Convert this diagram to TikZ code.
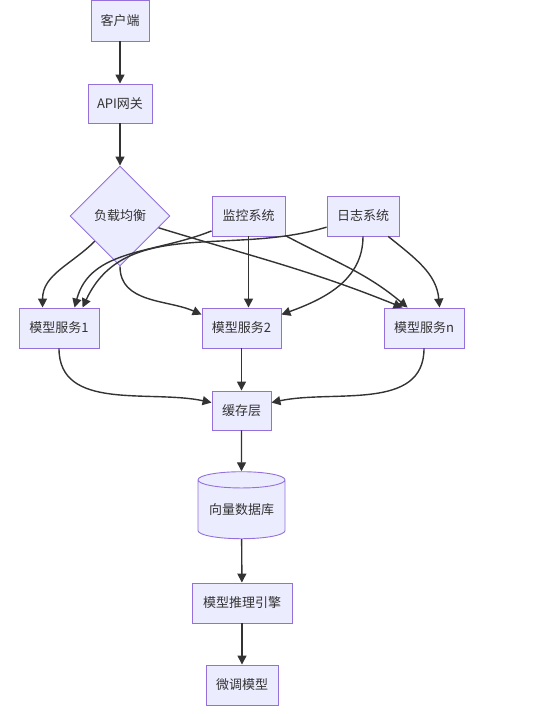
\documentclass[tikz,border=0pt]{standalone}
\usepackage{fontspec}
\setmainfont{Noto Sans CJK SC}
\usetikzlibrary{shapes.geometric,arrows.meta}
\definecolor{boxfill}{HTML}{ECECFF}
\definecolor{boxline}{HTML}{9370DB}
\definecolor{linkgray}{HTML}{333333}

\begin{document}
\begin{tikzpicture}[x=10pt,y=10pt]
\tikzstyle{every node}+=[inner sep=0pt,font=\fontsize{13}{15}\selectfont,text=linkgray]
\tikzstyle{box}=[draw=boxline,fill=boxfill,line width=0.9pt,minimum height=40pt]
\tikzstyle{link}=[draw=linkgray,line width=1.4pt,-{Triangle[length=9pt,width=9pt]}]
\useasboundingbox (0,0) rectangle (53.8,-71.4);
\node [box,minimum width=58pt,minimum height=41pt] (client) at (12,-2.05) {客户端};
\node [box,minimum width=64pt,minimum height=39pt] (gateway) at (12,-10.35) {API网关};
\node [box,diamond,aspect=1,minimum size=100pt] (lb) at (12,-21.6) {负载均衡};
\node [box,minimum width=73pt] (monitor) at (24.85,-21.6) {监控系统};
\node [box,minimum width=72pt] (logs) at (36.3,-21.6) {日志系统};
\node [box,minimum width=80pt] (svc1) at (5.9,-32.8) {模型服务1};
\node [box,minimum width=79pt] (svc2) at (24.15,-32.8) {模型服务2};
\node [box,minimum width=80pt] (svcn) at (42.4,-32.8) {模型服务n};
\node [box,minimum width=59pt,minimum height=39pt] (cache) at (24.15,-41.05) {缓存层};
\node [box,cylinder,shape border rotate=90,aspect=0.25,minimum width=87pt,minimum height=67pt] (vecdb) at (24.15,-50.95) {向量数据库};
\node [box,minimum width=100pt] (engine) at (24.2,-60.3) {模型推理引擎};
\node [box,minimum width=72pt] (finetune) at (24.2,-68.5) {微调模型};
\draw [link] (client) -- (gateway);
\draw [link] (gateway) -- (lb);
\draw [link] (lb.south west) to[out=-135,in=90] ([xshift=24pt]svc1.north west);
\draw [link] (lb.south) to[out=-90,in=156] ([yshift=-7pt]svc2.north west);
\draw [link] (lb) to[out=-17,in=158] ([xshift=19pt]svcn.north west);
\draw [link] (monitor) to[out=-158,in=75] ([xshift=56pt]svc1.north west);
\draw [link] (monitor.south) -- (monitor.south |- svc2.north);
\draw [link] (monitor) to[out=-28,in=140] ([xshift=24pt]svcn.north west);
\draw [link] (logs) to[out=-163,in=65] ([xshift=64pt]svc1.north west);
\draw [link] (logs.south) to[out=-90,in=20] ([yshift=-7pt]svc2.north east);
\draw [link] (logs) to[out=-39,in=95] ([xshift=56pt]svcn.north west);
\draw [link] (svc1.south) to[out=-90,in=168] ([yshift=-12pt]cache.north west);
\draw [link] (svc2) -- (cache);
\draw [link] (svcn.south) to[out=-90,in=12] ([yshift=-12pt]cache.north east);
\draw [link] (cache) -- (vecdb);
\draw [link] (vecdb) -- (engine);
\draw [link] (engine) -- (finetune);
\end{tikzpicture}
\end{document}
